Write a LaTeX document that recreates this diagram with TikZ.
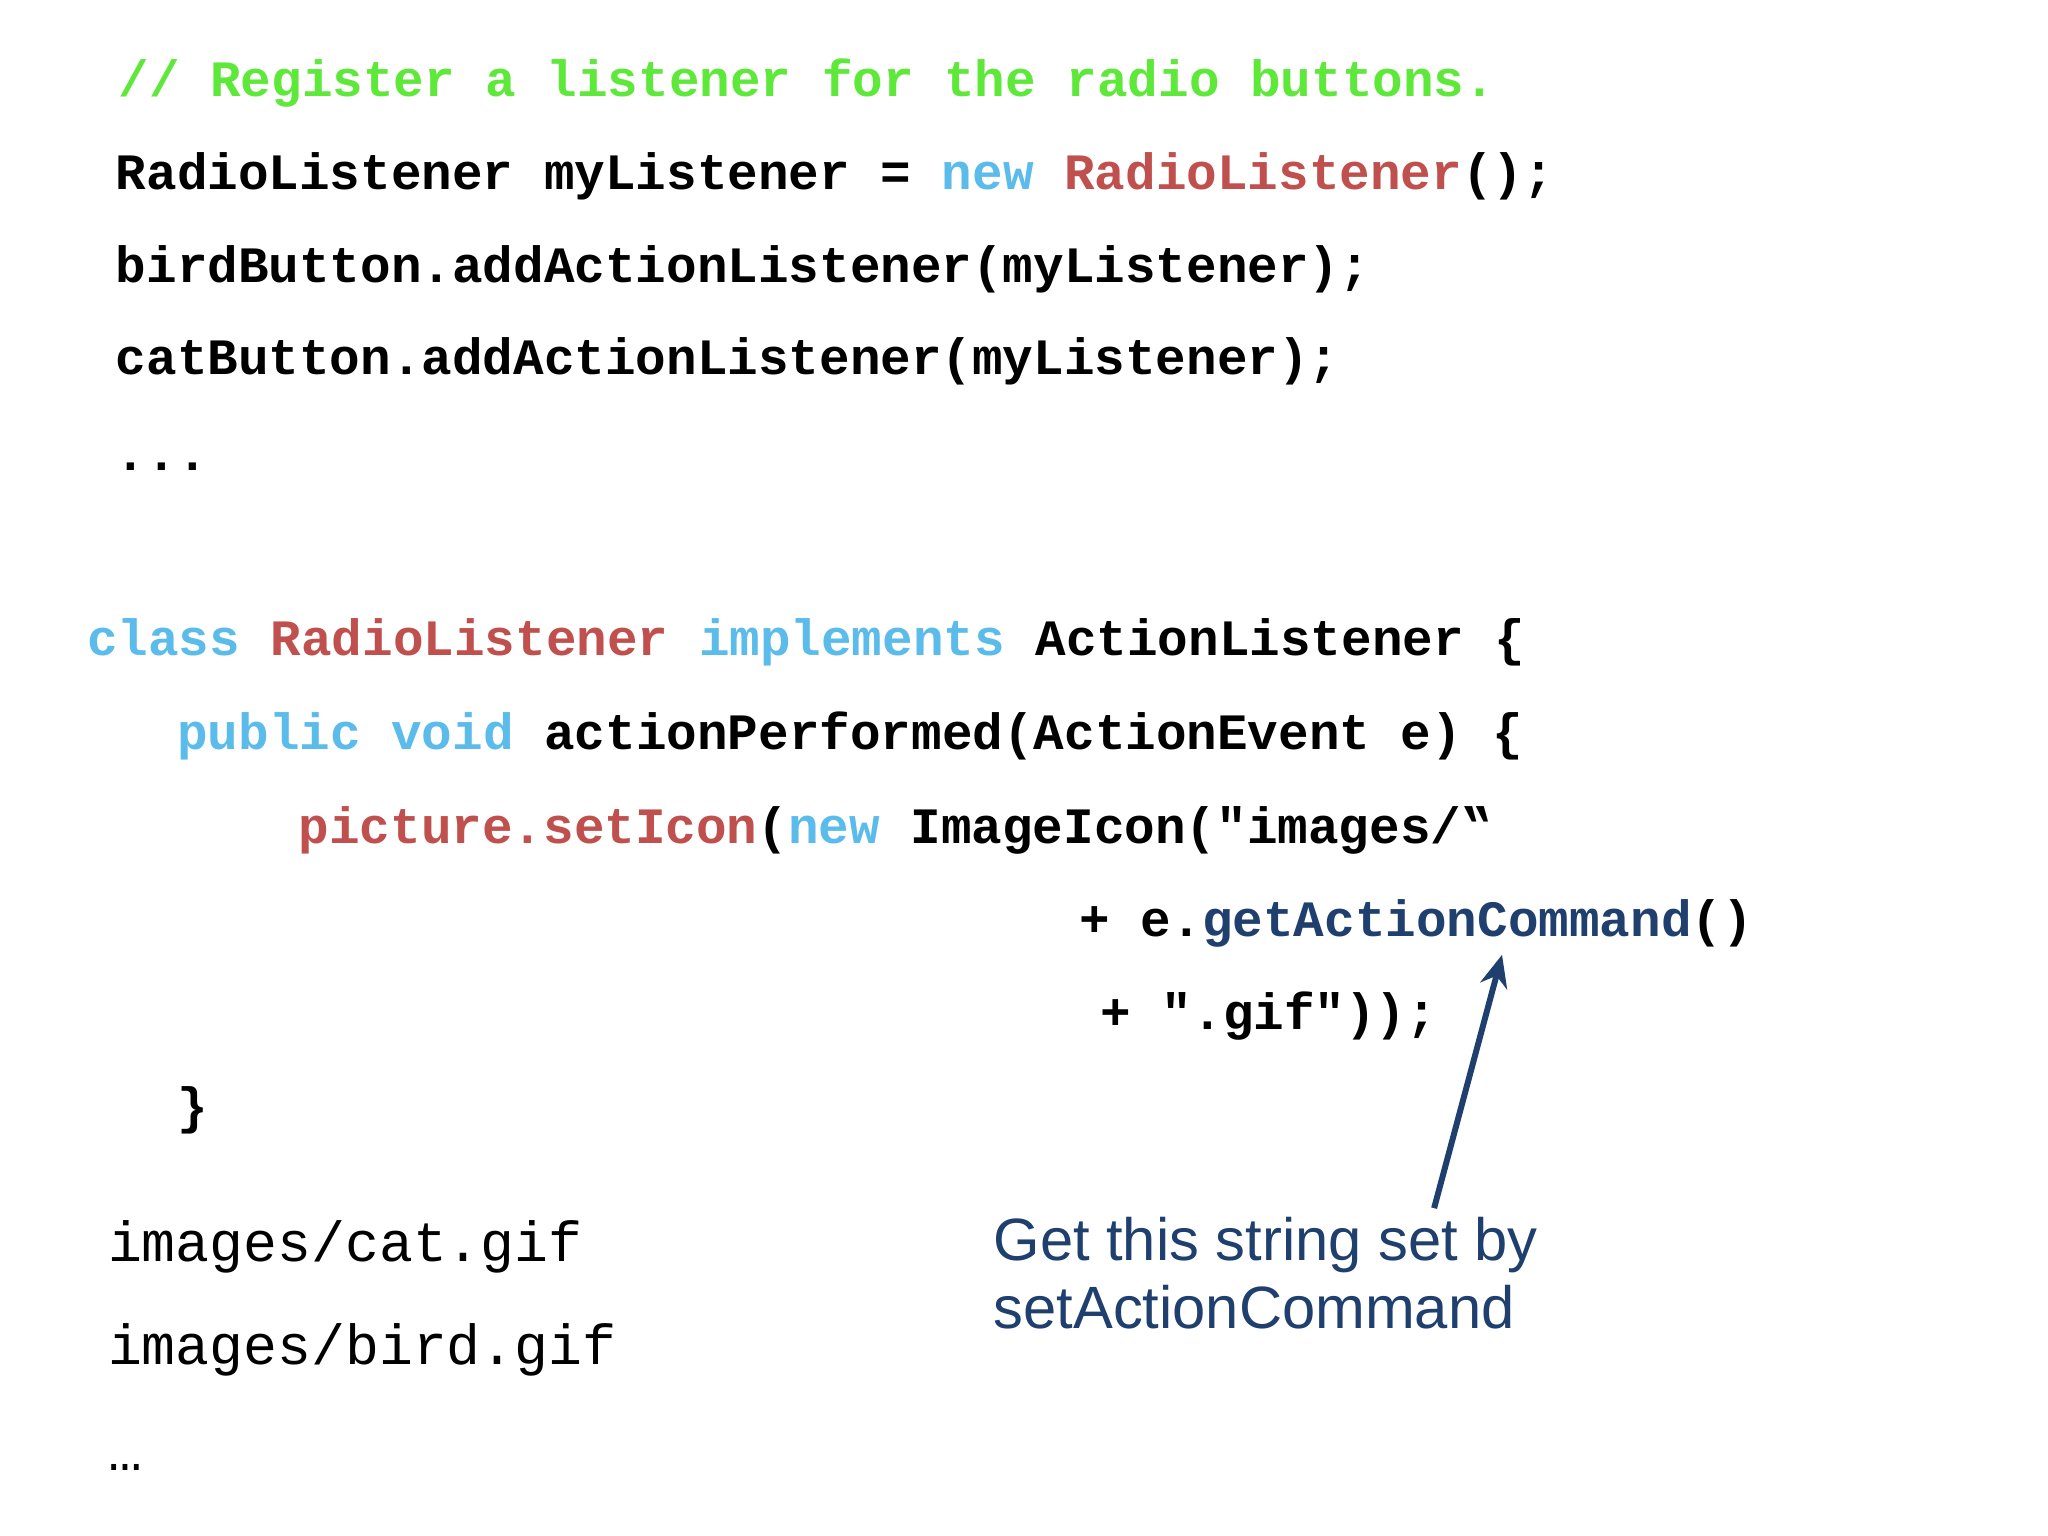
\documentclass[tikz,border=0pt]{standalone}
\usepackage{fontspec}
\usetikzlibrary{arrows.meta}
\setmainfont{Liberation Sans}
\newfontfamily\codef{Liberation Mono}
\definecolor{cgreen}{HTML}{5EE83A}
\definecolor{ckey}{HTML}{5BBCEB}
\definecolor{cred}{HTML}{C0504D}
\definecolor{cnavy}{HTML}{1F3F6F}
\tikzset{
  code/.style={anchor=base west,inner sep=0pt,font=\codef\fontsize{11.1}{13}\selectfont\bfseries},
  plain/.style={anchor=base west,inner sep=0pt,font=\codef\fontsize{12.3}{14}\selectfont},
  note/.style={anchor=base west,inner sep=0pt,font=\fontsize{13}{15}\selectfont,text=cnavy},
}
\begin{document}
\begin{tikzpicture}[x=0.01cm,y=-0.01cm]
\useasboundingbox[fill=white] (0,0) rectangle (1568,1176);
\node[code,text=cgreen] (l1) at (90,74) {// Register a listener for the radio buttons.};
\node[code] (l2) at (88,145) {RadioListener myListener = \textcolor{ckey}{new} \textcolor{cred}{RadioListener}();};
\node[code] (l3) at (88,216) {birdButton.addActionListener(myListener);};
\node[code] (l4) at (88,287) {catButton.addActionListener(myListener);};
\node[code] (l5) at (88,360) {...};
\node[code] (l6) at (66,502) {\textcolor{ckey}{class} \textcolor{cred}{RadioListener} \textcolor{ckey}{implements} ActionListener \{};
\node[code] (l7) at (135,574) {\textcolor{ckey}{public} \textcolor{ckey}{void} actionPerformed(ActionEvent e) \{};
\node[code] (l8) at (228,646) {\textcolor{cred}{picture.setIcon}(\textcolor{ckey}{new} ImageIcon("images/‟};
\node[code] (l9) at (826,717) {+ e.\textcolor{cnavy}{getActionCommand}()};
\node[code] (l10) at (842,788) {+ ".gif"));};
\node[code] (l11) at (135,860) {\}};
\node[plain] (p1) at (82,966) {images/cat.gif};
\node[plain] (p2) at (82,1045) {images/bird.gif};
\node[plain] (p3) at (82,1126) {…};
\node[note] (n1) at (760,965) {Get this string set by};
\node[note] (n2) at (760,1017) {setActionCommand};
\coordinate (from) at (1098,925);
\coordinate (to) at (1150,731);
\draw[cnavy,line width=1.3pt,-{Stealth[length=7pt,width=6pt]}] (from) -- (to);
\end{tikzpicture}
\end{document}
